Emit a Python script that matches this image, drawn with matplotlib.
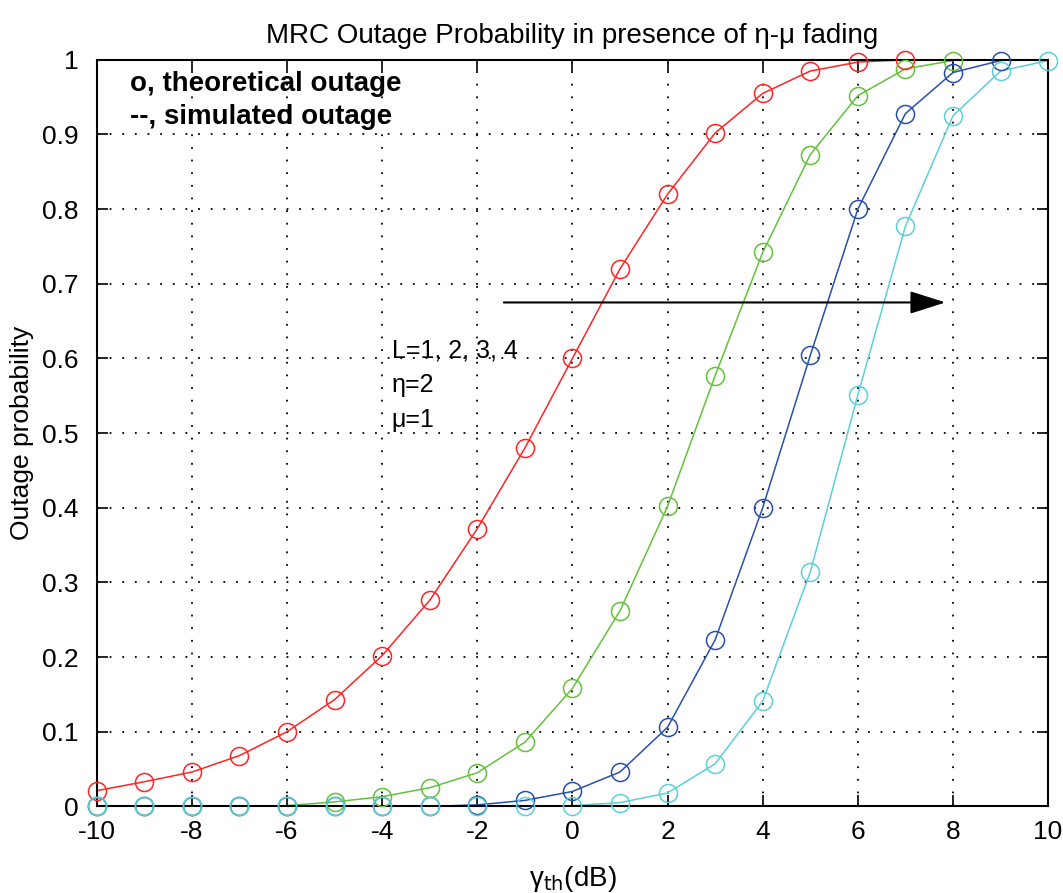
import numpy as np
import matplotlib
matplotlib.use('Agg')
import matplotlib.pyplot as plt

plt.rcParams['font.family'] = ['Liberation Sans', 'DejaVu Sans']

# threshold SNR in dB
gamma_th = list(range(-10, 11))

# outage probability for L = 1..4
L1 = [0.021, 0.033, 0.046, 0.068, 0.100, 0.143, 0.202, 0.276, 0.372, 0.480,
      0.600, 0.720, 0.820, 0.902, 0.955, 0.985, 0.997, 1.000]
L2 = [0.000, 0.000, 0.000, 0.000, 0.001, 0.006, 0.013, 0.025, 0.045, 0.086,
      0.158, 0.262, 0.402, 0.577, 0.742, 0.873, 0.952, 0.988, 0.999]
L3 = [0.000, 0.000, 0.000, 0.000, 0.000, 0.000, 0.000, 0.000, 0.002, 0.008,
      0.020, 0.046, 0.106, 0.223, 0.400, 0.604, 0.800, 0.928, 0.983, 0.999]
L4 = [0.000, 0.000, 0.000, 0.000, 0.000, 0.000, 0.000, 0.000, 0.000, 0.000,
      0.001, 0.005, 0.018, 0.057, 0.141, 0.314, 0.551, 0.777, 0.925, 0.985, 0.999]

series = [L1, L2, L3, L4]
colors = ['#ff2424', '#62c23a', '#2a4faa', '#5ccfd8']

fig = plt.figure(figsize=(10.63, 8.93), dpi=100)
ax = fig.add_axes([0.091, 0.097, 0.895, 0.836])

for vals, c in zip(series, colors):
    x = gamma_th[:len(vals)]
    ax.plot(x, vals, '-', color=c, lw=1.1)
    ax.plot(x, vals, 'o', mfc='none', mec=c, ms=13, mew=1.1, clip_on=False, zorder=4)

ax.set_xlim(-10, 10)
ax.set_ylim(0, 1)
ax.set_xticks(np.arange(-10, 11, 2))
ax.set_yticks(np.arange(0, 1.01, 0.1))
ax.set_xticklabels([str(v) for v in range(-10, 11, 2)])
ax.set_yticklabels(['0'] + ['%.1f' % v for v in np.arange(0.1, 0.95, 0.1)] + ['1'])
ax.tick_params(direction='in', length=8, width=1.2, top=True, right=True,
               labelsize=19)
ax.tick_params(axis='x', pad=10)
ax.tick_params(axis='y', pad=13)
ax.grid(True, color='black', linestyle=(0, (1, 6)), linewidth=1.3)
for s in ax.spines.values():
    s.set_linewidth(1.5)
    s.set_zorder(3)

ax.set_title('MRC Outage Probability in presence of η-μ fading', fontsize=20, pad=12)
ax.set_ylabel('Outage probability', fontsize=19, labelpad=6)
ax.set_xlabel(r'γ$_{\mathrm{th}}$(dB)', fontsize=20, labelpad=14)

ax.text(-9.3, 0.967, 'o, theoretical outage', fontsize=20, fontweight='bold', va='center')
ax.text(-9.3, 0.923, '--, simulated outage', fontsize=20, fontweight='bold', va='center')

ax.annotate('', xy=(7.9, 0.675), xytext=(-1.5, 0.675),
            arrowprops=dict(arrowstyle='-|>,head_length=2.2,head_width=0.7',
                            color='black', lw=1.5))
ax.text(-3.8, 0.611, 'L=1, 2, 3, 4', fontsize=18, va='center')
ax.text(-3.8, 0.564, 'η=2', fontsize=18, va='center')
ax.text(-3.8, 0.517, 'μ=1', fontsize=18, va='center')

fig.savefig('out.png', dpi=100)
